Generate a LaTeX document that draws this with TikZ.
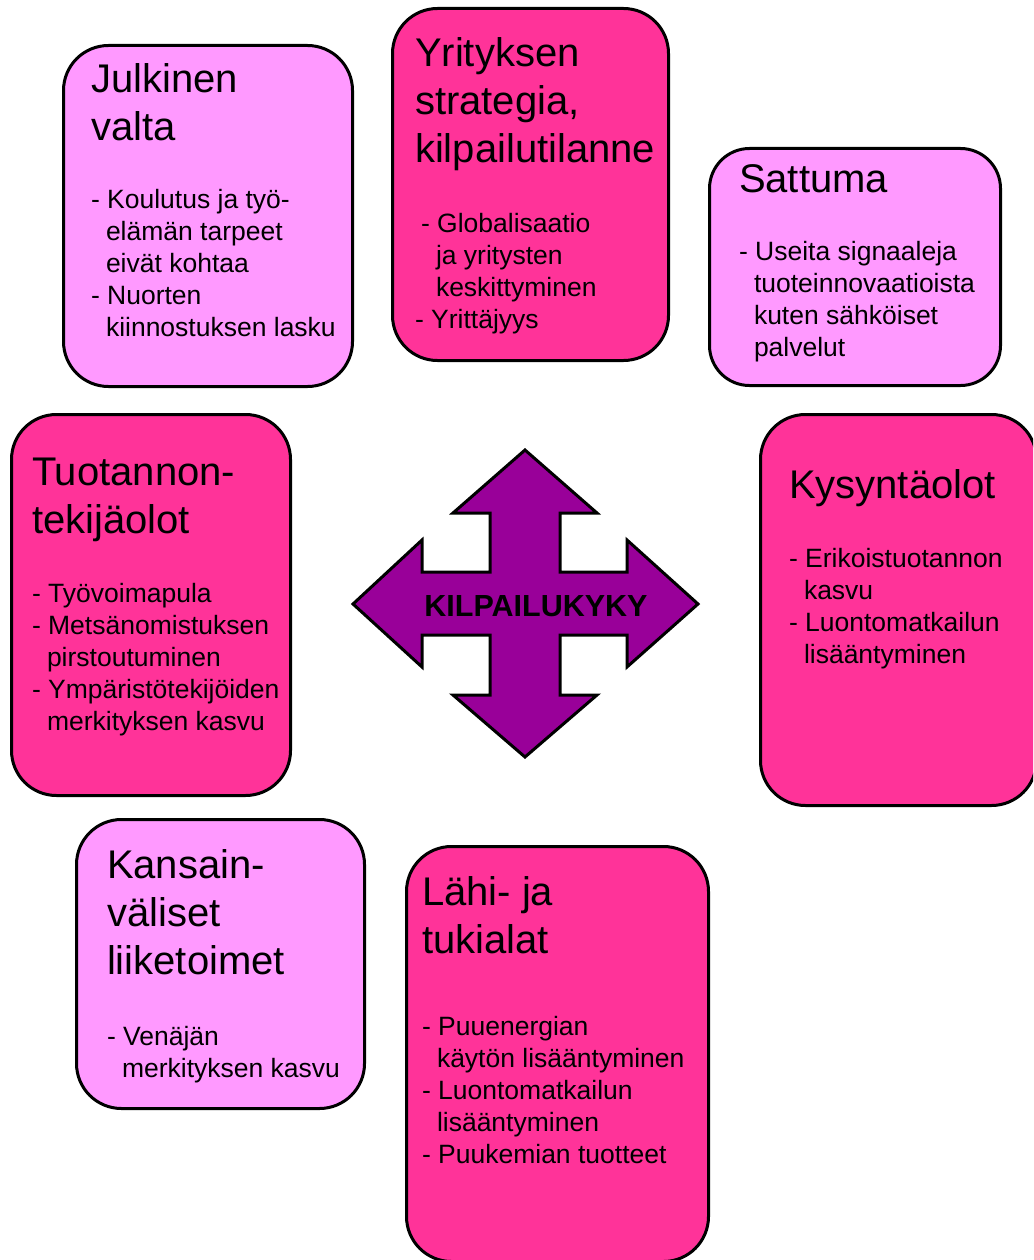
\documentclass[tikz,border=0pt]{standalone}
\usepackage{fontspec}
\setmainfont{Liberation Sans}
\usepackage{tikz}
\usepackage{xcolor}

\definecolor{vaalea}{HTML}{FF99FF}
\definecolor{tumma}{HTML}{FF3399}
\definecolor{violetti}{HTML}{990099}

\newcommand{\Otsake}{\rule{0pt}{34pt}}
\newcommand{\Rivi}{\rule{0pt}{24pt}}
\newcommand{\Sisenna}{\hspace*{15pt}}

\begin{document}
\begin{tikzpicture}[x=1pt,y=-1pt,
    laatikko/.style={draw=black, line width=3pt, rounded corners=45pt, inner sep=0pt},
    vaaleabox/.style={laatikko, fill=vaalea},
    tummabox/.style={laatikko, fill=tumma},
    otsikko/.style={anchor=north west, inner sep=0pt, outer sep=0pt, align=left,
      font=\fontsize{40}{48}\selectfont},
    teksti/.style={anchor=north west, inner sep=0pt, outer sep=0pt, align=left,
      font=\fontsize{26.5}{32}\selectfont}]
    \useasboundingbox (0,0) rectangle (1033,1260);
    \clip (0,0) rectangle (1033,1260);

    % laatikot
    \node[vaaleabox, minimum width=289, minimum height=341] (julkinen) at (208,216) {};
    \node[tummabox, minimum width=276, minimum height=352] (yritys) at (530.5,184.5) {};
    \node[vaaleabox, rounded corners=40pt, minimum width=291, minimum height=237] (sattuma) at (855,267) {};
    \node[tummabox, minimum width=279, minimum height=381] (tuotanto) at (151,605) {};
    \node[tummabox, minimum width=276, minimum height=391] (kysynta) at (898.5,610) {};
    \node[vaaleabox, minimum width=288, minimum height=289] (kansain) at (220.5,964) {};
    \node[tummabox, minimum width=302, minimum height=415] (lahi) at (557.5,1054) {};

    % tekstit
    \node[otsikko] (julkinenots) at (91,59) {\Otsake Julkinen\\valta};
    \node[teksti] (julkinentxt) at (91,184) {\Rivi - Koulutus ja työ-\\\Sisenna elämän tarpeet\\\Sisenna eivät kohtaa\\- Nuorten\\\Sisenna kiinnostuksen lasku};

    \node[otsikko] (yritysots) at (415,33) {\Otsake Yrityksen\\strategia,\\kilpailutilanne};
    \node[teksti] (yritystxt) at (415,208) {\Rivi\hspace*{6pt}- Globalisaatio\\\hspace*{21pt}ja yritysten\\\hspace*{21pt}keskittyminen\\- Yrittäjyys};

    \node[otsikko] (sattumaots) at (739,159) {\Otsake Sattuma};
    \node[teksti] (sattumatxt) at (739,236) {\Rivi - Useita signaaleja\\\Sisenna tuoteinnovaatioista\\\Sisenna kuten sähköiset\\\Sisenna palvelut};

    \node[otsikko] (tuotantoots) at (32,451) {\Otsake Tuotannon-\\tekijäolot};
    \node[teksti] (tuotantotxt) at (32,578) {\Rivi - Työvoimapula\\- Metsänomistuksen\\\Sisenna pirstoutuminen\\- Ympäristötekijöiden\\\Sisenna merkityksen kasvu};

    \node[otsikko] (kysyntaots) at (789,464) {\Otsake Kysyntäolot};
    \node[teksti] (kysyntatxt) at (789,543) {\Rivi - Erikoistuotannon\\\Sisenna kasvu\\- Luontomatkailun\\\Sisenna lisääntyminen};

    \node[otsikko] (kansainots) at (107,844) {\Otsake Kansain-\\väliset\\liiketoimet};
    \node[teksti] (kansaintxt) at (107,1021) {\Rivi - Venäjän\\\Sisenna merkityksen kasvu};

    \node[otsikko] (lahiots) at (422,871) {\Otsake Lähi- ja\\tukialat};
    \node[teksti] (lahitxt) at (422,1011) {\Rivi - Puuenergian\\\Sisenna käytön lisääntyminen\\- Luontomatkailun\\\Sisenna lisääntyminen\\- Puukemian tuotteet};

    % nelinuoli
    \filldraw[fill=violetti, draw=black, line width=3pt, line join=miter]
      (525,450) -- (597,513) -- (560,513) -- (560,572) -- (627,572) -- (627,540)
      -- (698,604) -- (627,667) -- (627,635) -- (560,635) -- (560,695) -- (597,695)
      -- (525,757) -- (453,695) -- (490,695) -- (490,635) -- (422,635) -- (422,667)
      -- (353,604) -- (422,540) -- (422,572) -- (490,572) -- (490,513) -- (453,513) -- cycle;
    \node[font=\fontsize{30.5}{36}\selectfont\bfseries, inner sep=0pt] (kilpailukyky) at (536,606) {KILPAILUKYKY};
\end{tikzpicture}
\end{document}
